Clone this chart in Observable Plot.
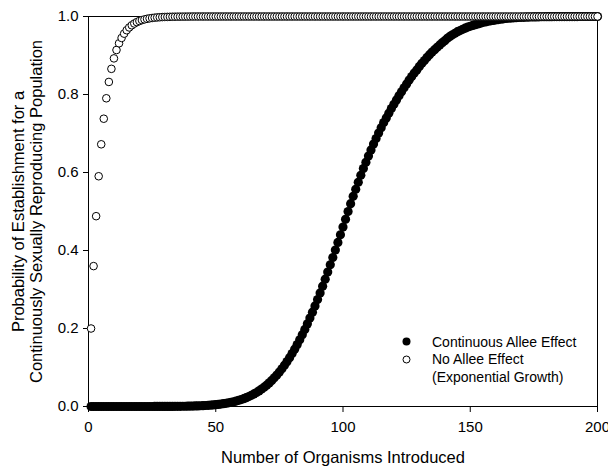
<!DOCTYPE html>
<html>
<head>
<meta charset="utf-8">
<script src="https://cdn.jsdelivr.net/npm/d3@7"></script>
<script src="https://cdn.jsdelivr.net/npm/@observablehq/plot@0.6"></script>
<style>
  html, body { margin: 0; padding: 0; background: #fff; overflow: hidden; }
  #wrap { position: relative; width: 608px; height: 471px; overflow: hidden; font-family: "Liberation Sans", Arial, Helvetica, sans-serif; }
  #legend { position: absolute; left: 396px; top: 333px; font-size: 14px; color: #000; }
  #legend .row { display: flex; align-items: center; height: 17.5px; }
  #legend .mk { width: 36px; height: 17px; }
</style>
</head>
<body>
<div id="wrap"></div>
<script>
// Number of organisms introduced: 1..200 (index + 1)
const xTicks = [0, 50, 100, 150, 200];
const yTicks = [0, 0.2, 0.4, 0.6, 0.8, 1.0];
const seriesNames = ["Continuous Allee Effect", "No Allee Effect", "(Exponential Growth)"];
const xTitle = "Number of Organisms Introduced";
const yTitle = "Probability of Establishment for a\nContinuously Sexually Reproducing Population";

// Continuous Allee effect (filled circles), n = 1..200
const alleeValues = [
  0,0,0,0,0,0,0,0,0,0,
  0,0,0,0,0,0,0,0,0,0,
  0.00002,0.00003,0.00004,0.00005,0.00006,0.00007,0.00009,0.00011,0.00013,0.00016,
  0.00019,0.00023,0.00028,0.00034,0.0004,0.00048,0.00058,0.00069,0.00082,0.00097,
  0.00114,0.00135,0.00159,0.00187,0.00219,0.00256,0.00298,0.00347,0.00402,0.00466,
  0.00539,0.00621,0.00714,0.0082,0.00939,0.01072,0.01222,0.0139,0.01578,0.01786,
  0.02018,0.02275,0.02559,0.02872,0.03216,0.03593,0.04006,0.04457,0.04947,0.0548,
  0.06057,0.06681,0.07353,0.08076,0.08851,0.0968,0.10565,0.11507,0.12507,0.13567,
  0.14686,0.15866,0.17106,0.18406,0.19766,0.21186,0.22663,0.24196,0.25785,0.27425,
  0.29116,0.30854,0.32636,0.34458,0.36317,0.38209,0.40129,0.42074,0.44038,0.46017,
  0.48006,0.5,0.52,0.539,0.557,0.575,0.593,0.61,0.626,0.642,
  0.658,0.673,0.687,0.701,0.715,0.728,0.74,0.752,0.764,0.775,
  0.786,0.797,0.807,0.817,0.827,0.837,0.846,0.855,0.863,0.872,
  0.88,0.887,0.895,0.902,0.909,0.915,0.921,0.927,0.933,0.938,
  0.944,0.949,0.953,0.957,0.961,0.964,0.967,0.97,0.973,0.975,
  0.977,0.979,0.981,0.983,0.985,0.986,0.988,0.989,0.99,0.991,
  0.992,0.993,0.994,0.995,0.9955,0.996,0.9965,0.997,0.9974,0.9978,
  0.998,0.9983,0.9985,0.9987,0.9989,0.999,0.9992,0.9993,0.9994,0.9995,
  0.9996,0.9996,0.9997,0.9997,0.9998,0.9998,0.9998,0.9999,0.9999,0.9999,
  0.9999,0.9999,1,1,1,1,1,1,1,1
];

// No Allee effect (open circles), n = 1..200
const noAlleeValues = [
  0.2,0.36,0.488,0.5904,0.6723,0.7379,0.7903,0.8322,0.8658,0.8926,
  0.9141,0.9313,0.945,0.956,0.9648,0.9719,0.9775,0.982,0.9856,0.9885,
  0.9908,0.9926,0.9941,0.9953,0.9962,0.997,0.9976,0.9981,0.9985,0.9988,
  0.999,0.9992,0.9994,0.9995,0.9996,0.9997,0.9997,0.9998,0.9998,0.9999,
  1,1,1,1,1,1,1,1,1,1,
  1,1,1,1,1,1,1,1,1,1,
  1,1,1,1,1,1,1,1,1,1,
  1,1,1,1,1,1,1,1,1,1,
  1,1,1,1,1,1,1,1,1,1,
  1,1,1,1,1,1,1,1,1,1,
  1,1,1,1,1,1,1,1,1,1,
  1,1,1,1,1,1,1,1,1,1,
  1,1,1,1,1,1,1,1,1,1,
  1,1,1,1,1,1,1,1,1,1,
  1,1,1,1,1,1,1,1,1,1,
  1,1,1,1,1,1,1,1,1,1,
  1,1,1,1,1,1,1,1,1,1,
  1,1,1,1,1,1,1,1,1,1,
  1,1,1,1,1,1,1,1,1,1,
  1,1,1,1,1,1,1,1,1,1
];

const allee = alleeValues.map((v, i) => ({n: i + 1, p: v}));
const noAllee = noAlleeValues.map((v, i) => ({n: i + 1, p: v}));

const chart = Plot.plot({
  width: 608,
  height: 471,
  marginLeft: 88,
  marginRight: 11,
  marginTop: 16,
  marginBottom: 65,
  style: {fontFamily: '"Liberation Sans", Arial, Helvetica, sans-serif', fontSize: "15px", color: "#000", background: "#fff", overflow: "visible"},
  x: {domain: [0, 200]},
  y: {domain: [0, 1]},
  marks: [
    Plot.axisX({ticks: xTicks, tickSize: 6, tickPadding: 9, label: null, stroke: "#000", fill: "#000"}),
    Plot.axisY({ticks: yTicks, tickSize: 5, tickPadding: 5, tickFormat: d3.format(".1f"), label: null, stroke: "#000", fill: "#000"}),
    Plot.frame({stroke: "#000", strokeWidth: 1}),
    Plot.dot(allee, {x: "n", y: "p", r: 4.6, fill: "#000", stroke: "none"}),
    Plot.dot(noAllee, {x: "n", y: "p", r: 3.8, fill: "#fff", stroke: "#000", strokeWidth: 1}),
    Plot.text([xTitle], {frameAnchor: "bottom", dy: 56, fontSize: 16.5, fill: "#000"}),
    Plot.text([yTitle], {frameAnchor: "left", dx: -61, rotate: -90, textAnchor: "middle", fontSize: 16.5, lineHeight: 1.09, fill: "#000"})
  ]
});

const wrap = document.getElementById("wrap");
wrap.appendChild(chart);

// Legend overlay
const legend = document.createElement("div");
legend.id = "legend";
const lines = [
  {label: seriesNames[0], marker: "filled"},
  {label: seriesNames[1], marker: "open"},
  {label: seriesNames[2], marker: null}
];
for (const l of lines) {
  const row = document.createElement("div");
  row.className = "row";
  const mk = document.createElement("div");
  mk.className = "mk";
  if (l.marker) {
    mk.innerHTML = l.marker === "filled"
      ? '<svg width="21" height="17"><circle cx="10.5" cy="8.5" r="4" fill="#000"/></svg>'
      : '<svg width="21" height="17"><circle cx="10.5" cy="8.5" r="3.5" fill="#fff" stroke="#000" stroke-width="1"/></svg>';
  }
  const tx = document.createElement("span");
  tx.textContent = l.label;
  row.appendChild(mk);
  row.appendChild(tx);
  legend.appendChild(row);
}
wrap.appendChild(legend);
</script>
</body>
</html>
